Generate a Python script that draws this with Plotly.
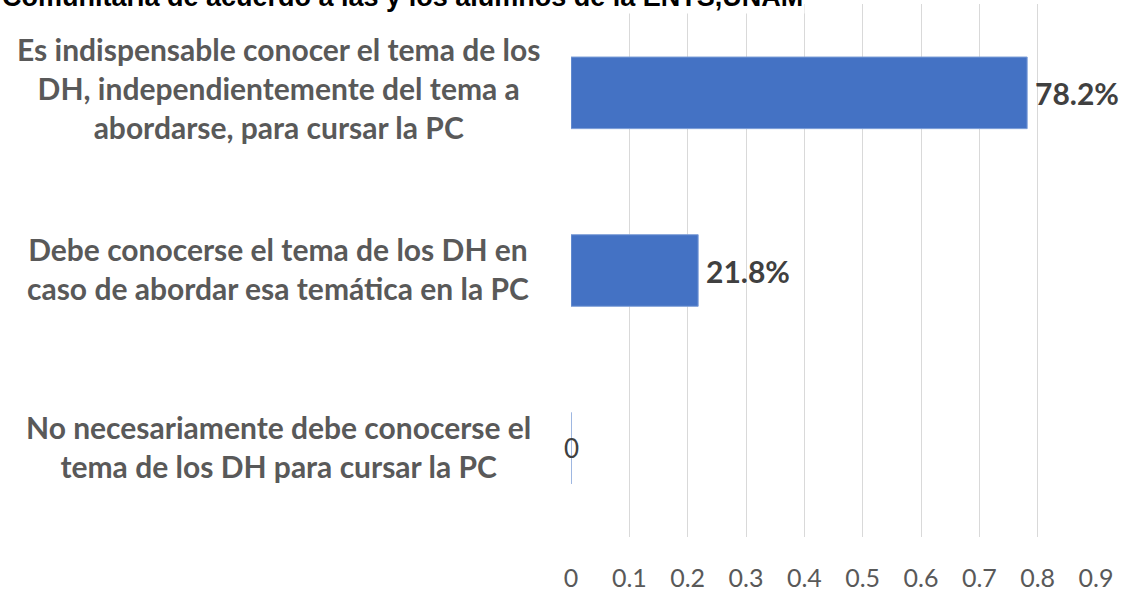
import plotly.graph_objects as go

title_text = "Comunitaria de acuerdo a las y los alumnos de la ENTS,UNAM"
categories = [
    "Es indispensable conocer el tema de los<br>DH, independientemente del tema a<br>abordarse, para cursar la PC",
    "Debe conocerse el tema de los DH en<br>caso de abordar esa temática en la PC",
    "No necesariamente debe conocerse el<br>tema de los DH para cursar la PC",
]
values = [0.782, 0.218, 0]
value_labels = ["78.2%", "21.8%", "0"]
label_bold = [True, True, False]
tick_vals = [0, 0.1, 0.2, 0.3, 0.4, 0.5, 0.6, 0.7, 0.8, 0.9]
tick_text = ["0", "0.1", "0.2", "0.3", "0.4", "0.5", "0.6", "0.7", "0.8", "0.9"]

W, H = 1140, 610
ML, MR, MT, MB = 571, 44, 4, 73
pw = W - ML - MR
ph = H - MT - MB

fig = go.Figure()
fig.add_trace(go.Bar(
    y=list(range(len(categories))),
    x=values,
    orientation="h",
    width=0.403,
    marker=dict(color="#4472C4", line=dict(color="#7f9fd8", width=1)),
    hoverinfo="skip",
))

annotations = []
for i, (cat, v, lab, b) in enumerate(zip(categories, values, value_labels, label_bold)):
    annotations.append(dict(
        x=(278 - ML) / pw, xref="paper", y=i, yref="y",
        text=cat, showarrow=False, xanchor="center", yanchor="middle", align="center",
        yshift=5 if i == 0 else 2,
        font=dict(family="Lato", size=30, color="#595959", weight="bold"),
    ))
    annotations.append(dict(
        x=v, xref="x", y=i, yref="y",
        text=lab, showarrow=False, xanchor="left", yanchor="middle",
        xshift=6 if b else -9,
        font=dict(family="Lato", size=30 if b else 26, color="#404040",
                  weight="bold" if b else "normal"),
    ))

annotations.append(dict(
    x=-ML / pw, xref="paper", y=(H - MB + 3) / ph, yref="paper",
    text="<b>" + title_text + "</b>", showarrow=False, xanchor="left", yanchor="middle",
    font=dict(family="Liberation Sans", size=27, color="#000000"),
    bgcolor="#ffffff", borderpad=1,
))

fig.update_layout(
    width=W, height=H,
    margin=dict(l=ML, r=MR, t=MT, b=MB, pad=0),
    paper_bgcolor="#ffffff", plot_bgcolor="#ffffff",
    showlegend=False,
    annotations=annotations,
    xaxis=dict(
        range=[0, 0.9], tickvals=tick_vals, ticktext=tick_text,
        showgrid=True, gridcolor="#d9d9d9", gridwidth=1,
        zeroline=False, showline=False, ticks="",
        ticklabelstandoff=24,
        tickfont=dict(family="Lato", size=25, color="#595959"),
    ),
    yaxis=dict(
        range=[2.5, -0.5], showticklabels=False, showgrid=False,
        zeroline=False, showline=False, ticks="",
    ),
)

fig.write_html("out.html", config={"displayModeBar": False},
               post_script="document.body.style.margin='0';")
